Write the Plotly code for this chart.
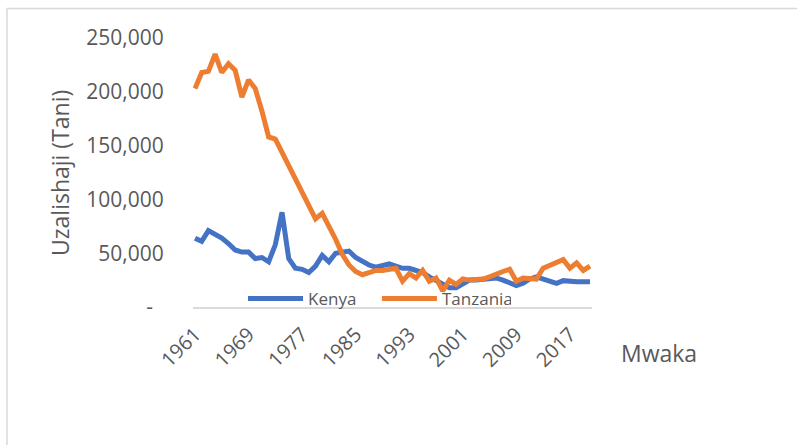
import plotly.graph_objects as go

years = list(range(1961, 2021))

kenya = [64000, 61000, 71000, 68000, 64000, 59000, 53000, 51000, 51000, 45000,
         46000, 42000, 58000, 88000, 45000, 36000, 35000, 32000, 38000, 48000,
         42000, 50000, 51000, 52000, 46000, 42000, 39000, 37000, 38000, 40000,
         38000, 36000, 36000, 34000, 32000, 28000, 25000, 21000, 18000, 18000,
         22000, 25000, 25000, 26000, 27000, 27000, 25000, 22000, 20000, 22000,
         26000, 28000, 26000, 23000, 22000, 24500, 23700, 23500, 23500, 23500]

tanzania = [203000, 218000, 219000, 235000, 218000, 226000, 220000, 195000, 211000, 203000,
            182000, 158000, 156000, 144000, 131000, 120000, 108000, 95000, 82000, 87000,
            76000, 63000, 49000, 39000, 33000, 30000, 32000, 34000, 34000, 35000,
            36000, 24000, 31000, 27000, 34000, 24000, 27000, 15000, 25000, 21000,
            26000, 25000, 25000, 26000, 28000, 31000, 33000, 35000, 24000, 27000,
            27000, 26000, 36000, 39000, 41000, 44000, 36000, 41000, 34000, 38000]

x_tick_years = [1961, 1969, 1977, 1985, 1993, 2001, 2009, 2017]
x_tick_labels = [str(y) for y in x_tick_years]
y_tick_vals = [0, 50000, 100000, 150000, 200000, 250000]
y_tick_labels = ["-\u00a0\u00a0", "50,000", "100,000", "150,000", "200,000", "250,000"]

series_names = ["Kenya", "Tanzania"]
series_colors = ["#4472C4", "#ED7D31"]

W, H = 797, 445
L, R, T, B = 193, 205, 38, 138
pw = W - L - R
ph = H - T - B

def px_x(p):
    return (p - L) / pw

def px_y(p):
    return (H - B - p) / ph

font_family = "Open Sans"
txt_color = "#595959"

fig = go.Figure()
for name, vals, col in zip(series_names, [kenya, tanzania], series_colors):
    fig.add_trace(go.Scatter(x=years, y=vals, name=name, mode="lines",
                             line=dict(color=col, width=5)))

fig.update_layout(
    width=W, height=H,
    margin=dict(l=L, r=R, t=T, b=B, autoexpand=False),
    paper_bgcolor="white", plot_bgcolor="white",
    font=dict(family=font_family, color=txt_color),
    showlegend=True,
    legend=dict(orientation="h", x=px_x(243), xanchor="left",
                y=px_y(299), yanchor="middle",
                font=dict(size=17, color=txt_color),
                itemwidth=55, entrywidth=64, bgcolor="rgba(0,0,0,0)",
                tracegroupgap=0),
    xaxis=dict(range=[1960.7, 2020.3], tickmode="array",
               tickvals=x_tick_years, ticktext=x_tick_labels,
               tickangle=-45, showgrid=False, zeroline=False,
               showline=True, linecolor="#D9D9D9", linewidth=1.5,
               ticks="outside", ticklen=6, tickcolor="rgba(0,0,0,0)",
               tickfont=dict(size=20, color=txt_color)),
    yaxis=dict(range=[0, 250000], tickmode="array",
               tickvals=y_tick_vals, ticktext=y_tick_labels,
               showgrid=False, zeroline=False, showline=False,
               ticks="outside", ticklen=24, tickcolor="rgba(0,0,0,0)",
               tickfont=dict(size=21, color=txt_color)),
    shapes=[dict(type="rect", xref="paper", yref="paper",
                 x0=px_x(7), x1=px_x(820), y0=px_y(470), y1=px_y(8.5),
                 line=dict(color="#D9D9D9", width=1.5), fillcolor="rgba(0,0,0,0)",
                 layer="below")],
    annotations=[
        dict(text="Uzalishaji (Tani)", textangle=-90, xref="paper", yref="paper",
             x=px_x(60), y=px_y(173), xanchor="center", yanchor="middle",
             showarrow=False, font=dict(size=23, color=txt_color)),
        dict(text="Mwaka", xref="paper", yref="paper",
             x=px_x(619), y=px_y(353), xanchor="left", yanchor="middle",
             showarrow=False, font=dict(size=23, color=txt_color)),
    ],
)

fig.write_html("out.html", config={"displayModeBar": False},
               post_script="document.body.style.margin='0';")
